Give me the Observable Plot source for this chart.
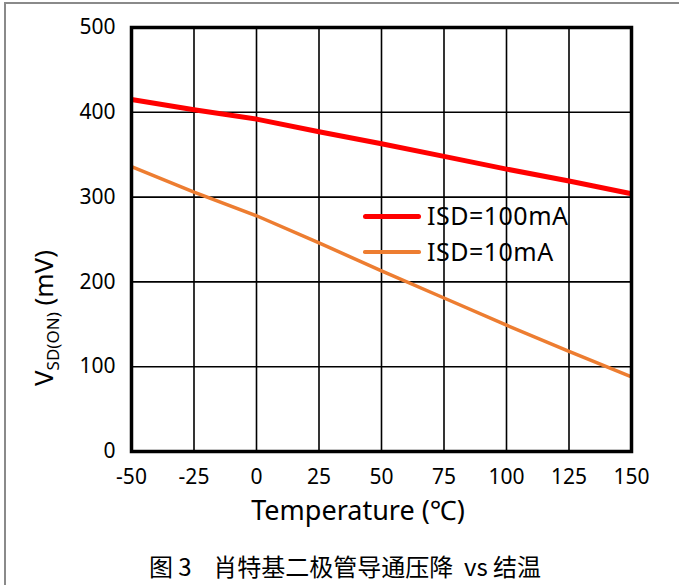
<!DOCTYPE html>
<html><head><meta charset="utf-8">
<script src="https://cdn.jsdelivr.net/npm/d3@7"></script>
<script src="https://cdn.jsdelivr.net/npm/@observablehq/plot@0.6"></script>
<style>
body{margin:0;background:#fff;font-family:"Noto Sans","Noto Sans CJK SC",sans-serif;}
#wrap{position:relative;width:679px;height:585px;overflow:hidden;background:#fff;}
#border{position:absolute;left:4px;top:2px;width:720px;height:640px;border-left:2px solid #8a8a8a;border-top:2px solid #8a8a8a;pointer-events:none;}
#chart{position:absolute;left:0;top:0;}
.leg{position:absolute;}
.legtxt{position:absolute;font-size:25px;line-height:30px;color:#000;white-space:nowrap;}
#caption{position:absolute;left:0;top:546px;width:690px;height:40px;line-height:40px;text-align:center;font-family:"Noto Sans CJK SC","Noto Sans",sans-serif;font-size:24px;color:#000;white-space:pre;}
</style>
</head><body>
<div id="wrap">
  <div id="chart"></div>
  <div id="legend"></div>
  <div id="caption"></div>
  <div id="border"></div>
</div>
<script>
// Data
const temps = [-50, -25, 0, 25, 50, 75, 100, 125, 150];
const isd100 = [415, 403, 392, 377, 363, 348, 333, 319, 304];
const isd10 = [336, 306, 278, 246, 213, 181, 149, 118, 88];
const seriesNames = ["ISD=100mA", "ISD=10mA"];
const seriesColors = ["#ff0000", "#ed7d31"];
const seriesWidths = [5, 3.5];
const xTicks = [-50, -25, 0, 25, 50, 75, 100, 125, 150];
const yTicks = [0, 100, 200, 300, 400, 500];
const xTitle = "Temperature (℃)";
const yTitleMain = "V", yTitleSub = "SD(ON)", yTitleUnit = " (mV)";
const captionText = "图 3    肖特基二极管导通压降  vs 结温";

const seriesValues = [isd100, isd10];
const rows = seriesValues.map((vals, i) => temps.map((t, j) => ({t, v: vals[j], s: seriesNames[i]})));

const font = '"Noto Sans","Noto Sans CJK SC",sans-serif';
const chart = Plot.plot({
  width: 679,
  height: 546,
  marginLeft: 131,
  marginRight: 48,
  marginTop: 27,
  marginBottom: 95,
  x: {domain: [-50, 150], ticks: xTicks},
  y: {domain: [0, 500], ticks: yTicks},
  style: {fontFamily: font, fontSize: "21px", color: "#000", background: "transparent", overflow: "visible"},
  marks: [
    Plot.gridX(xTicks, {stroke: "#000", strokeOpacity: 1, strokeWidth: 1.6}),
    Plot.gridY(yTicks, {stroke: "#000", strokeOpacity: 1, strokeWidth: 1.6}),
    ...rows.map((r, i) => Plot.line(r, {x: "t", y: "v", stroke: seriesColors[i], strokeWidth: seriesWidths[i], strokeLinecap: "butt"})),
    Plot.frame({stroke: "#000", strokeWidth: 3.5}),
    Plot.axisX(xTicks, {tickSize: 0, tickPadding: 18, label: null, fontSize: 21, tickFormat: d => String(d)}),
    Plot.axisY(yTicks, {tickSize: 0, tickPadding: 16, label: null, fontSize: 21, tickFormat: d => String(d)})
  ]
});
document.getElementById("chart").appendChild(chart);

const svg = d3.select(chart);
svg.append("text")
  .attr("x", 358).attr("y", 520)
  .attr("text-anchor", "middle")
  .attr("font-family", font).attr("font-size", 27).attr("fill", "#000")
  .text(xTitle);
const yt = svg.append("text")
  .attr("transform", "translate(53,318) rotate(-90)")
  .attr("font-family", font).attr("font-size", 26).attr("fill", "#000");
yt.append("tspan").text(yTitleMain);
yt.append("tspan").attr("font-size", 17).attr("dy", 6).text(yTitleSub);
yt.append("tspan").attr("dy", -6).text(yTitleUnit);

// Legend
const legend = document.getElementById("legend");
const legY = [216, 252];
seriesNames.forEach((name, i) => {
  const ln = document.createElement("div");
  ln.className = "leg";
  ln.style.left = "363px";
  ln.style.width = "58px";
  ln.style.top = (legY[i] - seriesWidths[i] / 2) + "px";
  ln.style.height = seriesWidths[i] + "px";
  ln.style.background = seriesColors[i];
  ln.style.borderRadius = (seriesWidths[i] / 2) + "px";
  legend.appendChild(ln);
  const tx = document.createElement("div");
  tx.className = "legtxt";
  tx.style.left = "427px";
  tx.style.top = (legY[i] - 16) + "px";
  tx.style.letterSpacing = "0.5px";
  tx.textContent = name;
  legend.appendChild(tx);
});

document.getElementById("caption").textContent = captionText;
</script>
</body></html>
